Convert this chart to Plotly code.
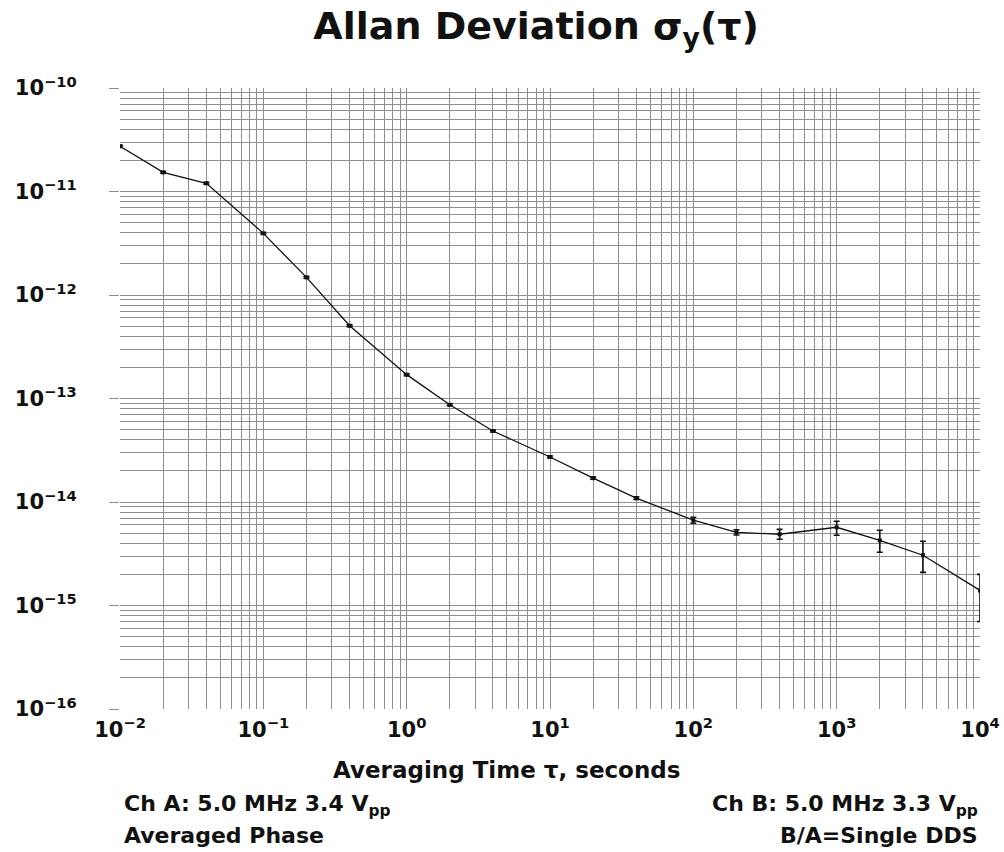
import plotly.graph_objects as go

tau = [0.01, 0.02, 0.04, 0.1, 0.2, 0.4, 1, 2, 4, 10, 20, 40, 100, 200, 400, 1000, 2000, 4000, 10000]
adev = [2.74e-11, 1.53e-11, 1.2e-11, 3.94e-12, 1.48e-12, 5.05e-13, 1.7e-13, 8.7e-14, 4.85e-14,
        2.72e-14, 1.7e-14, 1.09e-14, 6.67e-15, 5.09e-15, 4.88e-15, 5.7e-15, 4.26e-15, 3.06e-15, 1.4e-15]
err_hi = [0.6e-12, 0.3e-12, 0.25e-12, 0.8e-13, 0.3e-13, 0.1e-13, 0.35e-14, 0.18e-14, 0.1e-14,
          0.6e-15, 0.4e-15, 0.3e-15, 0.46e-15, 0.31e-15, 0.56e-15, 0.82e-15, 1.07e-15, 1.11e-15, 0.6e-15]
err_lo = [0.6e-12, 0.3e-12, 0.25e-12, 0.8e-13, 0.3e-13, 0.1e-13, 0.35e-14, 0.18e-14, 0.1e-14,
          0.6e-15, 0.4e-15, 0.3e-15, 0.43e-15, 0.29e-15, 0.52e-15, 0.93e-15, 0.99e-15, 0.97e-15, 0.7e-15]

x_tickvals = [1e-2, 1e-1, 1e0, 1e1, 1e2, 1e3, 1e4]
x_ticktext = ["<b>10<sup>−2</sup></b>", "<b>10<sup>−1</sup></b>", "<b>10<sup>0</sup></b>", "<b>10<sup>1</sup></b>",
              "<b>10<sup>2</sup></b>", "<b>10<sup>3</sup></b>", "<b>10<sup>4</sup></b>"]
y_tickvals = [1e-16, 1e-15, 1e-14, 1e-13, 1e-12, 1e-11, 1e-10]
y_ticktext = ["<b>10<sup>−16</sup></b>", "<b>10<sup>−15</sup></b>", "<b>10<sup>−14</sup></b>", "<b>10<sup>−13</sup></b>",
              "<b>10<sup>−12</sup></b>", "<b>10<sup>−11</sup></b>", "<b>10<sup>−10</sup></b>"]

FONT = "DejaVu Sans, Liberation Sans, sans-serif"
GRID = "#8f8f8f"
INK = "#111111"

fig = go.Figure()
fig.add_trace(go.Scatter(
    x=tau, y=adev, mode="lines+markers",
    line=dict(color=INK, width=1.3),
    marker=dict(symbol="square", size=4, color=INK),
    error_y=dict(type="data", symmetric=False, array=err_hi, arrayminus=err_lo,
                 color=INK, thickness=1.6, width=3),
    showlegend=False,
))

axis_common = dict(
    showline=False, zeroline=False, showgrid=True, gridcolor=GRID, gridwidth=1,
    tickfont=dict(family=FONT, size=21, color=INK), automargin=False,
)

fig.update_xaxes(
    type="log", range=[-2, 4], tickvals=x_tickvals, ticktext=x_ticktext,
    ticks="", ticklabelstandoff=6,
    minor=dict(dtick="D1", showgrid=True, gridcolor=GRID, gridwidth=1, ticks=""),
    **axis_common,
)
fig.update_yaxes(
    type="log", range=[-16, -10], tickvals=y_tickvals, ticktext=y_ticktext,
    ticks="outside", ticklen=10, tickcolor=GRID, ticklabelstandoff=28,
    minor=dict(dtick="D1", showgrid=True, gridcolor=GRID, gridwidth=1, ticks=""),
    **axis_common,
)

fig.update_layout(
    width=1004, height=852,
    margin=dict(l=120, r=24, t=88, b=143, autoexpand=False),
    paper_bgcolor="white", plot_bgcolor="white",
    title=dict(text="<b>Allan Deviation σ<sub>y</sub>(τ)</b>", x=0.534, xanchor="center",
               y=0.9695, yanchor="middle", font=dict(family=FONT, size=38, color=INK)),
    annotations=[
        dict(text="<b>Averaging Time τ, seconds</b>", xref="paper", yref="paper", x=0.449, y=-0.098,
             showarrow=False, font=dict(family=FONT, size=23, color=INK), yanchor="middle"),
        dict(text="<b>Ch A: 5.0 MHz 3.4 V<sub>pp</sub></b>", xref="paper", yref="paper", x=0.002, y=-0.156,
             xanchor="left", yanchor="middle", showarrow=False, font=dict(family=FONT, size=22, color=INK)),
        dict(text="<b>Averaged Phase</b>", xref="paper", yref="paper", x=0.002, y=-0.203,
             xanchor="left", yanchor="middle", showarrow=False, font=dict(family=FONT, size=22, color=INK)),
        dict(text="<b>Ch B: 5.0 MHz 3.3 V<sub>pp</sub></b>", xref="paper", yref="paper", x=1.0, y=-0.156,
             xanchor="right", yanchor="middle", showarrow=False, font=dict(family=FONT, size=22, color=INK)),
        dict(text="<b>B/A=Single DDS</b>", xref="paper", yref="paper", x=1.0, y=-0.203,
             xanchor="right", yanchor="middle", showarrow=False, font=dict(family=FONT, size=22, color=INK)),
    ],
)

fig.write_html("out.html", config={"displayModeBar": False},
               post_script="document.body.style.margin='0';")
